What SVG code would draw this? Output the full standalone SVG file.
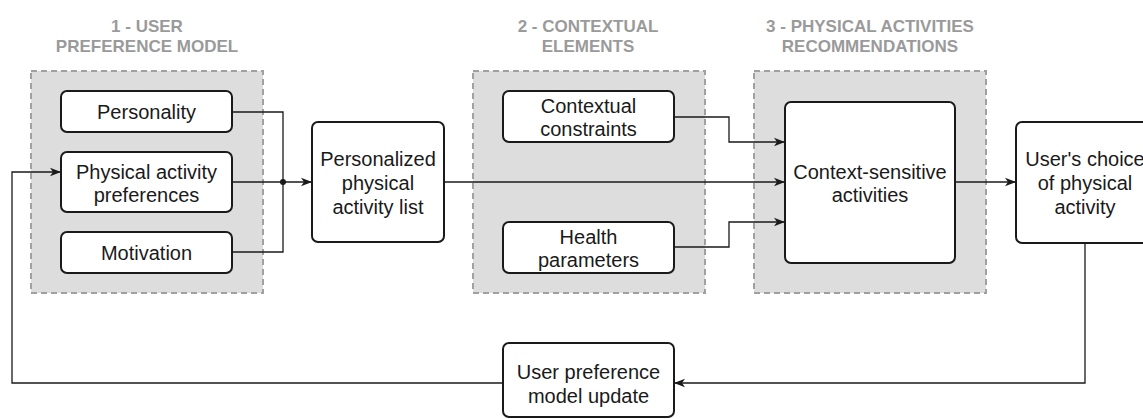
<svg xmlns="http://www.w3.org/2000/svg" width="1143" height="419" viewBox="0 0 1143 419">
<style>
.grp{fill:#dddddd;stroke:#a0a0a0;stroke-width:2;stroke-dasharray:6 4}
.ttl{font-family:"Liberation Sans",Arial,sans-serif;font-weight:bold;font-size:17px;fill:#9a9a9a;text-anchor:middle}
.box{fill:#ffffff;stroke:#1a1a1a;stroke-width:2}
.lbl{font-family:"Liberation Sans",Arial,sans-serif;font-size:20px;fill:#1a1a1a;text-anchor:middle}
.con{fill:none;stroke:#1a1a1a;stroke-width:1.3}
</style>
<defs>
<marker id="arr" markerWidth="12" markerHeight="10" refX="11" refY="5" orient="auto" markerUnits="userSpaceOnUse">
<path d="M0,0.8 L11,5 L0,9.2 L3,5 Z" fill="#1a1a1a"/>
</marker>
</defs>
<g id="group1">
<rect class="grp" x="31" y="71" width="232" height="222"/>
<text class="ttl" x="147" y="32">1 - USER</text>
<text class="ttl" x="147" y="52">PREFERENCE MODEL</text>
</g>
<g id="group2">
<rect class="grp" x="473" y="71" width="232" height="222"/>
<text class="ttl" x="588" y="32">2 - CONTEXTUAL</text>
<text class="ttl" x="588" y="52">ELEMENTS</text>
</g>
<g id="group3">
<rect class="grp" x="754" y="71" width="232" height="222"/>
<text class="ttl" x="870" y="32">3 - PHYSICAL ACTIVITIES</text>
<text class="ttl" x="870" y="52">RECOMMENDATIONS</text>
</g>
<g id="connectors">
<polyline class="con" points="232,112 283,112 283,182"/>
<polyline class="con" points="232,252 283,252 283,182"/>
<line class="con" x1="232" y1="182" x2="312" y2="182" marker-end="url(#arr)"/>
<circle cx="283" cy="182" r="3" fill="#1a1a1a"/>
<line class="con" x1="444" y1="182" x2="785" y2="182" marker-end="url(#arr)"/>
<polyline class="con" points="674,117 729,117 729,142 785,142" marker-end="url(#arr)"/>
<polyline class="con" points="674,247 729,247 729,222 785,222" marker-end="url(#arr)"/>
<line class="con" x1="955" y1="182" x2="1016" y2="182" marker-end="url(#arr)"/>
<polyline class="con" points="1085,243 1085,383 674,383" marker-end="url(#arr)"/>
<polyline class="con" points="503,383 12,383 12,172 61,172" marker-end="url(#arr)"/>
</g>
<g id="personality">
<rect class="box" x="61" y="91" width="171" height="41" rx="6"/>
<text class="lbl" x="146.5" y="119">Personality</text>
</g>
<g id="pa-preferences">
<rect class="box" x="61" y="152" width="171" height="60" rx="6"/>
<text class="lbl" x="146.5" y="179">Physical activity</text>
<text class="lbl" x="146.5" y="202">preferences</text>
</g>
<g id="motivation">
<rect class="box" x="61" y="232" width="171" height="41" rx="6"/>
<text class="lbl" x="146.5" y="260">Motivation</text>
</g>
<g id="personalized-list">
<rect class="box" x="312" y="122" width="132" height="120" rx="6"/>
<text class="lbl" x="378" y="166">Personalized</text>
<text class="lbl" x="378" y="190">physical</text>
<text class="lbl" x="378" y="214">activity list</text>
</g>
<g id="contextual-constraints">
<rect class="box" x="503" y="91" width="171" height="51" rx="6"/>
<text class="lbl" x="588.5" y="113">Contextual</text>
<text class="lbl" x="588.5" y="136">constraints</text>
</g>
<g id="health-parameters">
<rect class="box" x="503" y="222" width="171" height="51" rx="6"/>
<text class="lbl" x="588.5" y="243.5">Health</text>
<text class="lbl" x="588.5" y="267">parameters</text>
</g>
<g id="context-sensitive">
<rect class="box" x="785" y="102" width="170" height="161" rx="6"/>
<text class="lbl" x="870" y="179">Context-sensitive</text>
<text class="lbl" x="870" y="202">activities</text>
</g>
<g id="users-choice">
<rect class="box" x="1016" y="122" width="138" height="121" rx="6"/>
<text class="lbl" x="1085" y="166">User's choice</text>
<text class="lbl" x="1085" y="190">of physical</text>
<text class="lbl" x="1085" y="214">activity</text>
</g>
<g id="preference-update">
<rect class="box" x="503" y="343" width="171" height="74" rx="6"/>
<text class="lbl" x="588.5" y="379">User preference</text>
<text class="lbl" x="588.5" y="403">model update</text>
</g>
</svg>
